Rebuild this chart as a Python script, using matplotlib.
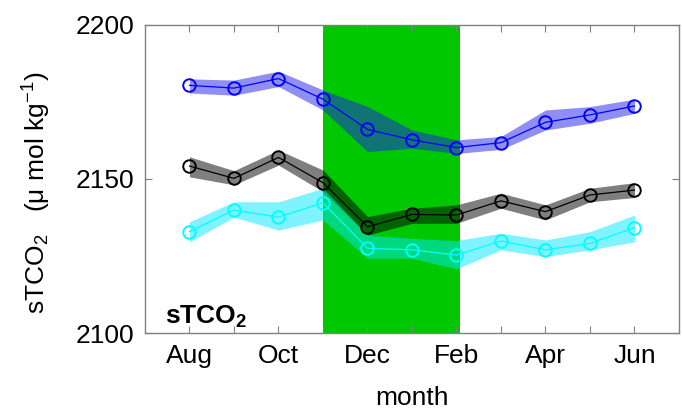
import numpy as np
import matplotlib
matplotlib.use("Agg")
import matplotlib.pyplot as plt

plt.rcParams['font.family'] = ['Liberation Sans', 'DejaVu Sans']
plt.rcParams['mathtext.fontset'] = 'custom'
plt.rcParams['mathtext.rm'] = 'Liberation Sans'
plt.rcParams['mathtext.it'] = 'Liberation Sans'
plt.rcParams['mathtext.bf'] = 'Liberation Sans:bold'

# months Aug..Jun on x = 1..11
months = ['Aug', 'Sep', 'Oct', 'Nov', 'Dec', 'Jan', 'Feb', 'Mar', 'Apr', 'May', 'Jun']
month_labels = ['Aug', '', 'Oct', '', 'Dec', '', 'Feb', '', 'Apr', '', 'Jun']

# upper series (blue)
blue_mean = [2180.4, 2179.5, 2182.6, 2175.9, 2166.1, 2162.7, 2160.2, 2161.8, 2168.4, 2170.8, 2173.7]
blue_lo = [2177.9, 2177.2, 2180.0, 2172.4, 2158.9, 2160.0, 2158.3, 2159.6, 2165.9, 2168.1, 2171.3]
blue_hi = [2182.5, 2182.1, 2185.0, 2178.9, 2173.5, 2165.9, 2162.7, 2163.8, 2172.4, 2173.5, 2175.9]

# middle series (black)
black_mean = [2154.2, 2150.2, 2157.0, 2148.8, 2134.5, 2138.5, 2138.3, 2142.9, 2139.4, 2144.8, 2146.4]
black_lo = [2150.7, 2148.1, 2154.5, 2145.9, 2131.8, 2135.6, 2135.6, 2140.5, 2136.7, 2142.6, 2144.0]
black_hi = [2157.2, 2152.7, 2159.4, 2152.9, 2137.8, 2140.5, 2141.6, 2145.4, 2141.6, 2147.0, 2148.8]

# lower series (cyan)
cyan_mean = [2132.9, 2139.9, 2137.6, 2142.3, 2127.5, 2127.0, 2125.3, 2129.9, 2127.0, 2129.1, 2134.2]
cyan_lo = [2129.6, 2137.6, 2133.4, 2136.7, 2124.3, 2124.3, 2120.8, 2127.0, 2124.8, 2127.0, 2129.6]
cyan_hi = [2136.1, 2142.6, 2142.6, 2147.0, 2131.8, 2130.7, 2130.0, 2132.4, 2130.2, 2132.9, 2138.3]

# shaded season (Nov..Feb)
season_start = 4
season_end = 7.07

x = np.arange(1, len(months) + 1)

fig = plt.figure(figsize=(6.82, 4.18), dpi=100)
ax = fig.add_axes([0.2126, 0.2033, 0.783, 0.737])

ax.axvspan(season_start, season_end, color='#00c800', lw=0, zorder=0)

series = [
    (black_mean, black_lo, black_hi, 'k', '#000000'),
    (cyan_mean, cyan_lo, cyan_hi, '#00ffff', '#00e8ff'),
    (blue_mean, blue_lo, blue_hi, '#0000ff', '#2020e8'),
]
for mean, lo, hi, lc, fc in series:
    ax.fill_between(x, lo, hi, color=fc, alpha=0.5, lw=0, zorder=1)
    ax.plot(x, mean, '-', color=lc, lw=0.9, marker='o', ms=9, mfc='none',
            mec=lc, mew=1.4, zorder=3)

ax.set_xlim(0, 12)
ax.set_ylim(2100, 2200)
ax.set_xticks(x)
ax.set_xticklabels(month_labels)
ax.set_yticks([2100, 2150, 2200])

for s in ax.spines.values():
    s.set_color('#808080')
    s.set_linewidth(1.0)
ax.tick_params(direction='in', length=5, width=0.8, color='#808080',
               top=True, right=True, labelsize=19, pad=8)

ax.set_xlabel('month', fontsize=19, labelpad=13)
ax.set_ylabel(r'sTCO$_2$   ($\mu$ mol kg$^{-1}$)', fontsize=19)
ax.yaxis.set_label_coords(-0.172, 0.455)

ax.text(0.45, 2103, r'sTCO$_\mathbf{2}$', fontsize=19, fontweight='bold', zorder=5)

fig.savefig('out.png', dpi=100)
